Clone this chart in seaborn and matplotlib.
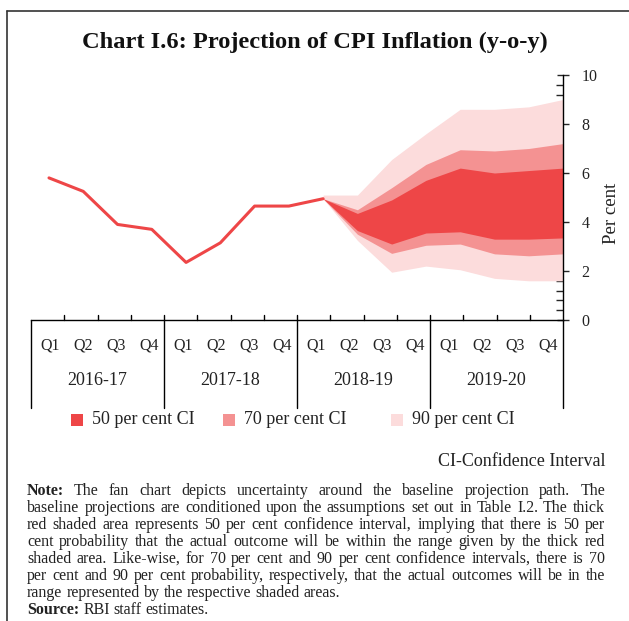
import numpy as np
import pandas as pd
import matplotlib.pyplot as plt
import seaborn as sns
from matplotlib.ticker import MultipleLocator
from matplotlib.patches import Rectangle
from matplotlib.lines import Line2D

# ---- data ----
years = ['2016-17', '2017-18', '2018-19', '2019-20']
quarters = ['Q1', 'Q2', 'Q3', 'Q4']

# actual CPI inflation, Q1 2016-17 .. Q1 2018-19
cpi_actual = [5.8, 5.25, 3.9, 3.7, 2.35, 3.15, 4.65, 4.65, 4.95]

# fan chart bands, Q1 2018-19 .. Q4 2019-20
ci90_upper = [5.1, 5.1, 6.55, 7.6, 8.6, 8.6, 8.7, 9.0]
ci70_upper = [4.95, 4.5, 5.4, 6.35, 6.95, 6.9, 7.0, 7.2]
ci50_upper = [4.95, 4.35, 4.9, 5.7, 6.2, 6.0, 6.1, 6.2]
ci50_lower = [4.95, 3.65, 3.1, 3.55, 3.6, 3.3, 3.3, 3.35]
ci70_lower = [4.95, 3.5, 2.72, 3.05, 3.1, 2.7, 2.62, 2.7]
ci90_lower = [4.95, 3.25, 1.95, 2.2, 2.05, 1.7, 1.6, 1.6]

ci_labels = ['50 per cent CI', '70 per cent CI', '90 per cent CI']
ci_colors = ['#EE4647', '#F49292', '#FCDCDC']
line_color = '#EE4647'

note_lines = [
    'Note: The fan chart depicts uncertainty around the baseline projection path. The',
    'baseline projections are conditioned upon the assumptions set out in Table I.2. The thick',
    'red shaded area represents 50 per cent confidence interval, implying that there is 50 per',
    'cent probability that the actual outcome will be within the range given by the thick red',
    'shaded area. Like-wise, for 70 per cent and 90 per cent confidence intervals, there is 70',
    'per cent and 90 per cent probability, respectively,  that the actual outcomes will be in the',
    'range represented by the respective shaded areas.',
]
source_line = 'Source: RBI staff estimates.'

df_actual = pd.DataFrame({'idx': np.arange(len(cpi_actual)), 'cpi': cpi_actual})
idx_proj = np.arange(len(cpi_actual) - 1, len(cpi_actual) - 1 + len(ci50_upper))

# ---- figure ----
sns.set_style('white')
plt.rcParams['font.family'] = ['Liberation Serif', 'DejaVu Serif']
text_color = '#222222'

W, H = 629, 621
fig = plt.figure(figsize=(W / 100, H / 100), dpi=100)
ax = fig.add_axes([31 / W, 1 - 320 / H, (563 - 31) / W, 245 / H])

# fan
ax.fill_between(idx_proj, ci90_lower, ci90_upper, color=ci_colors[2], lw=0)
ax.fill_between(idx_proj, ci70_lower, ci70_upper, color=ci_colors[1], lw=0)
ax.fill_between(idx_proj, ci50_lower, ci50_upper, color=ci_colors[0], lw=0)

# actual line
sns.lineplot(data=df_actual, x='idx', y='cpi', color=line_color, lw=2.2, ax=ax)

ax.set_xlim(-0.525, 15)
ax.set_ylim(0, 10)
ax.set_xlabel('')
ax.set_ylabel('')

# spines / y axis on the right
for s in ['top', 'left']:
    ax.spines[s].set_visible(False)
for s in ['right', 'bottom']:
    ax.spines[s].set_color('black')
    ax.spines[s].set_linewidth(1.0)
ax.yaxis.tick_right()
ax.yaxis.set_major_locator(MultipleLocator(2))
ax.yaxis.set_minor_locator(MultipleLocator(0.4))
ax.tick_params(axis='y', which='major', direction='inout', length=9, width=1.0,
               labelsize=11.5, pad=9, labelcolor=text_color)
ax.tick_params(axis='y', which='minor', direction='in', length=5, width=1.0)
ax.set_xticks([])

# category axis: quarter ticks, year dividers, labels
for k in range(1, 16):
    ax.add_line(Line2D([k / 16, k / 16], [0, 0.022], transform=ax.transAxes,
                       color='black', lw=1.0, clip_on=False))
for k in range(5):
    ax.add_line(Line2D([k / 4, k / 4], [0, -0.36], transform=ax.transAxes,
                       color='black', lw=1.0, clip_on=False))
for i, yr in enumerate(years):
    for j, q in enumerate(quarters):
        ax.text((4 * i + j + 0.5) / 16 + 0.004, -0.105, q, transform=ax.transAxes,
                ha='center', va='center', fontsize=11.5, color=text_color)
    ax.text((i + 0.5) / 4, -0.245, yr, transform=ax.transAxes,
            ha='center', va='center', fontsize=13, color=text_color)

fig.text(612 / W, 1 - 213 / H, 'Per cent', rotation=90, ha='center', va='center',
         fontsize=13.5, color=text_color)

# title
fig.text(315 / W, 1 - 42 / H, 'Chart I.6: Projection of CPI Inflation (y-o-y)',
         ha='center', va='center', fontsize=17.6, fontweight='bold', color='#111111')

# legend, placed by hand (uneven spacing in the original)
legend_x = [71, 223, 391]
for x, c, l in zip(legend_x, ci_colors, ci_labels):
    fig.add_artist(Rectangle((x / W, 1 - 426 / H), 12 / W, 12 / H, transform=fig.transFigure,
                             facecolor=c, edgecolor='none'))
    fig.text((x + 21) / W, 1 - 420 / H, l, ha='left', va='center', fontsize=13, color=text_color)

fig.text(605 / W, 1 - 461 / H, 'CI-Confidence Interval', ha='right', va='center',
         fontsize=13, color=text_color)

# frame (left and top only)
fig.add_artist(Line2D([7 / W, 7 / W], [0, 1 - 11 / H], transform=fig.transFigure, color='#333333', lw=1.2))
fig.add_artist(Line2D([7 / W, 1], [1 - 11 / H, 1 - 11 / H], transform=fig.transFigure, color='#333333', lw=1.2))

# note, justified line by line
renderer = fig.canvas.get_renderer()
x_left, x_right = 27, 605
note_size = 11.5


def justified_line(text, y, justify=True, bold_first=False):
    words = text.split()
    objs = []
    for n, w in enumerate(words):
        weight = 'bold' if (bold_first and n == 0) else 'normal'
        objs.append(fig.text(0, 1 - y / H, w, ha='left', va='baseline', fontsize=note_size,
                             fontweight=weight, color=text_color))
    widths = [o.get_window_extent(renderer=renderer).width for o in objs]
    if justify:
        gap = (x_right - x_left - sum(widths)) / (len(words) - 1)
    else:
        gap = note_size * 100 / 72 * 0.25
    x = x_left
    for o, w in zip(objs, widths):
        o.set_x(x / W)
        x += w + gap


for n, line in enumerate(note_lines):
    justified_line(line, 495 + n * 17, justify=(n < len(note_lines) - 1), bold_first=(n == 0))
justified_line(source_line, 495 + len(note_lines) * 17, justify=False, bold_first=True)

plt.savefig('out.png', dpi=100)
